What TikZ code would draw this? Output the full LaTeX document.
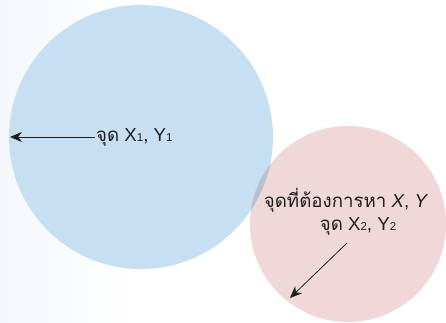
\documentclass[tikz,border=0pt]{standalone}
\usepackage{fontspec}
\setmainfont{Liberation Sans}
\newfontfamily\thaifont[Script=Thai]{Loma}
\usetikzlibrary{arrows.meta,positioning}
\definecolor{CircleBlue}{HTML}{C6DFF2}
\definecolor{CirclePink}{HTML}{F0D8D8}
\definecolor{OverlapGray}{HTML}{B8BFCF}
\definecolor{PaleBack}{HTML}{F4F7FC}
\definecolor{InkBlack}{HTML}{1E1E1E}
\tikzset{
  % Arrow
  arr/.style={-{Stealth[length=12pt,width=10pt]},thick,draw=InkBlack},
  % Label text
  lbl/.style={font=\fontsize{18.7}{21}\selectfont,text=InkBlack,inner sep=1pt},
  % Circles
  cB/.style={fill=CircleBlue},
  cP/.style={fill=CirclePink}
}
\newcommand{\smallidx}[1]{{\fontsize{11.5}{12}\selectfont#1}}

\begin{document}
\begin{tikzpicture}[x=1pt,y=-1pt]
  \useasboundingbox (0,0) rectangle (446,322);
  \shade[left color=PaleBack,right color=white] (0,0) rectangle (130,322);

  \fill[cP] (348,224) circle (98pt);
  \fill[cB] (141,137) circle (132pt);
  \begin{scope}
    \clip (348,224) circle (98pt);
    \fill[OverlapGray] (141,137) circle (132pt);
  \end{scope}

  \node[lbl,anchor=west] (pone) at (95,137) {{\thaifont จุด} X\smallidx{1}, Y\smallidx{1}};
  \node[lbl] (target) at (346,200) {{\thaifont จุดที่ต้องการหา} \textit{X}, \textit{Y}};
  \node[lbl,below=3pt of target.south,xshift=12pt,anchor=north] (ptwo) {{\thaifont จุด} X\smallidx{2}, Y\smallidx{2}};
  \coordinate (eone) at (10,137);
  \coordinate (stwo) at (347,243);
  \coordinate (etwo) at (290,298);

  \draw[arr] (pone.west) -- (eone);
  \draw[arr] (stwo) -- (etwo);
\end{tikzpicture}
\end{document}
